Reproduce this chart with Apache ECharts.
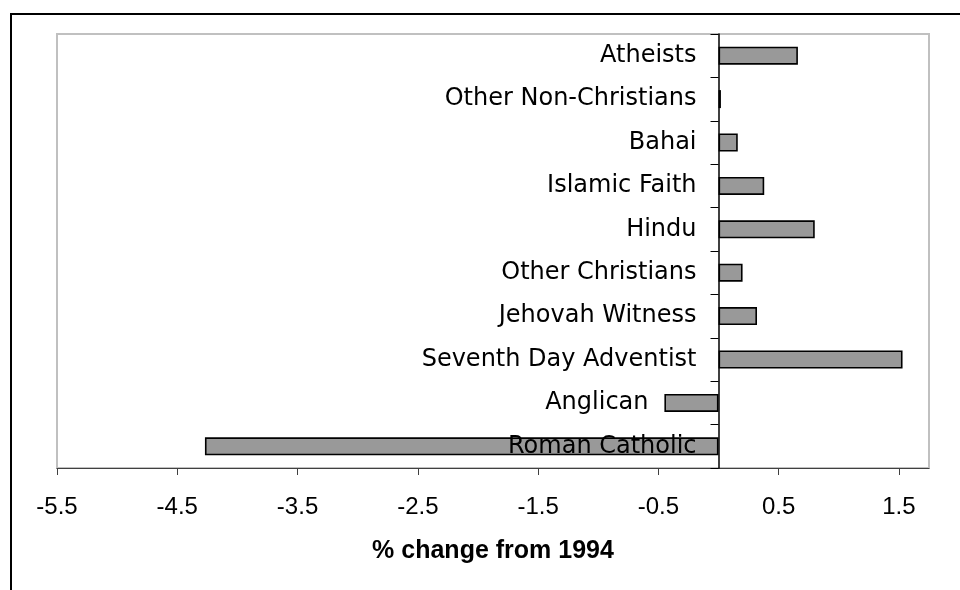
<!DOCTYPE html>
<html>
<head>
<meta charset="utf-8">
<title>% change from 1994</title>
<script src="https://cdn.jsdelivr.net/npm/echarts@6/dist/echarts.min.js"></script>
<style>
  html, body { margin: 0; padding: 0; background: #ffffff; }
  #chart { width: 960px; height: 590px; }
</style>
</head>
<body>
<div id="chart"></div>
<script>
// Religious groups, listed from the top of the chart downwards
const categories = [
  'Atheists',
  'Other Non-Christians',
  'Bahai',
  'Islamic Faith',
  'Hindu',
  'Other Christians',
  'Jehovah Witness',
  'Seventh Day Adventist',
  'Anglican',
  'Roman Catholic'
];

// Percentage-point change since 1994
const changeValues = [0.66, 0.02, 0.16, 0.38, 0.8, 0.2, 0.32, 1.53, -0.45, -4.27];

// Values shown on the horizontal axis
const xTickValues = [-5.5, -4.5, -3.5, -2.5, -1.5, -0.5, 0.5, 1.5];
const xTickLabels = ['-5.5', '-4.5', '-3.5', '-2.5', '-1.5', '-0.5', '0.5', '1.5'];

const xMin = -5.5;
const xMax = 1.75;

const gridLeft = 57;
const gridRight = 31;
const chartWidth = 960;

// The category axis sits on the zero line of the value axis; shift it there
// (labels and ticks follow the axis line).
const plotWidth = chartWidth - gridLeft - gridRight;
const zeroOffset = -plotWidth * (0 - xMin) / (xMax - xMin);

// The Anglican label is pushed clear of its (short, negative) bar.
const categoryData = categories.map(function (name) {
  return name === 'Anglican'
    ? { value: name, textStyle: { padding: [0, 48, 0, 0] } }
    : { value: name };
});

const chart = echarts.init(document.getElementById('chart'), null, { renderer: 'canvas' });

chart.setOption({
  animation: false,
  backgroundColor: '#ffffff',
  graphic: [{
    type: 'rect',
    silent: true,
    shape: { x: 11, y: 14, width: 1000, height: 700 },
    style: { fill: 'none', stroke: '#000000', lineWidth: 2 }
  }],
  grid: {
    left: gridLeft,
    top: 34,
    right: gridRight,
    bottom: 122,
    containLabel: false,
    outerBoundsMode: 'none',
    show: true,
    backgroundColor: '#ffffff',
    borderColor: '#c0c0c0',
    borderWidth: 2
  },
  xAxis: {
    type: 'value',
    min: xMin,
    max: xMax,
    interval: 1,
    splitLine: { show: false },
    axisLine: { show: true, lineStyle: { color: '#404040', width: 1 } },
    axisTick: {
      show: true,
      length: 7,
      customValues: xTickValues,
      lineStyle: { color: '#404040', width: 1 }
    },
    axisLabel: {
      customValues: xTickValues,
      formatter: function (v) {
        const i = xTickValues.indexOf(v);
        return i >= 0 ? xTickLabels[i] : '';
      },
      margin: 27,
      color: '#000000',
      fontFamily: 'Liberation Sans, Arial, sans-serif',
      fontSize: 24
    },
    name: '% change from 1994',
    nameLocation: 'middle',
    nameGap: 71,
    nameTextStyle: {
      color: '#000000',
      fontFamily: 'Liberation Sans, Arial, sans-serif',
      fontWeight: 'bold',
      fontSize: 25
    }
  },
  yAxis: {
    type: 'category',
    data: categoryData,
    inverse: true,
    position: 'left',
    offset: zeroOffset,
    z: 5,
    axisLine: { show: true, onZero: false, lineStyle: { color: '#000000', width: 1.5 } },
    axisTick: { show: true, length: 8, lineStyle: { color: '#000000', width: 1 } },
    axisLabel: {
      margin: 22,
      color: '#000000',
      fontFamily: 'DejaVu Sans, Verdana, sans-serif',
      fontSize: 24
    },
    splitLine: { show: false }
  },
  series: [{
    type: 'bar',
    data: changeValues,
    barWidth: 18,
    itemStyle: {
      color: '#999999',
      borderColor: '#000000',
      borderWidth: 1.6
    }
  }]
});
</script>
</body>
</html>
